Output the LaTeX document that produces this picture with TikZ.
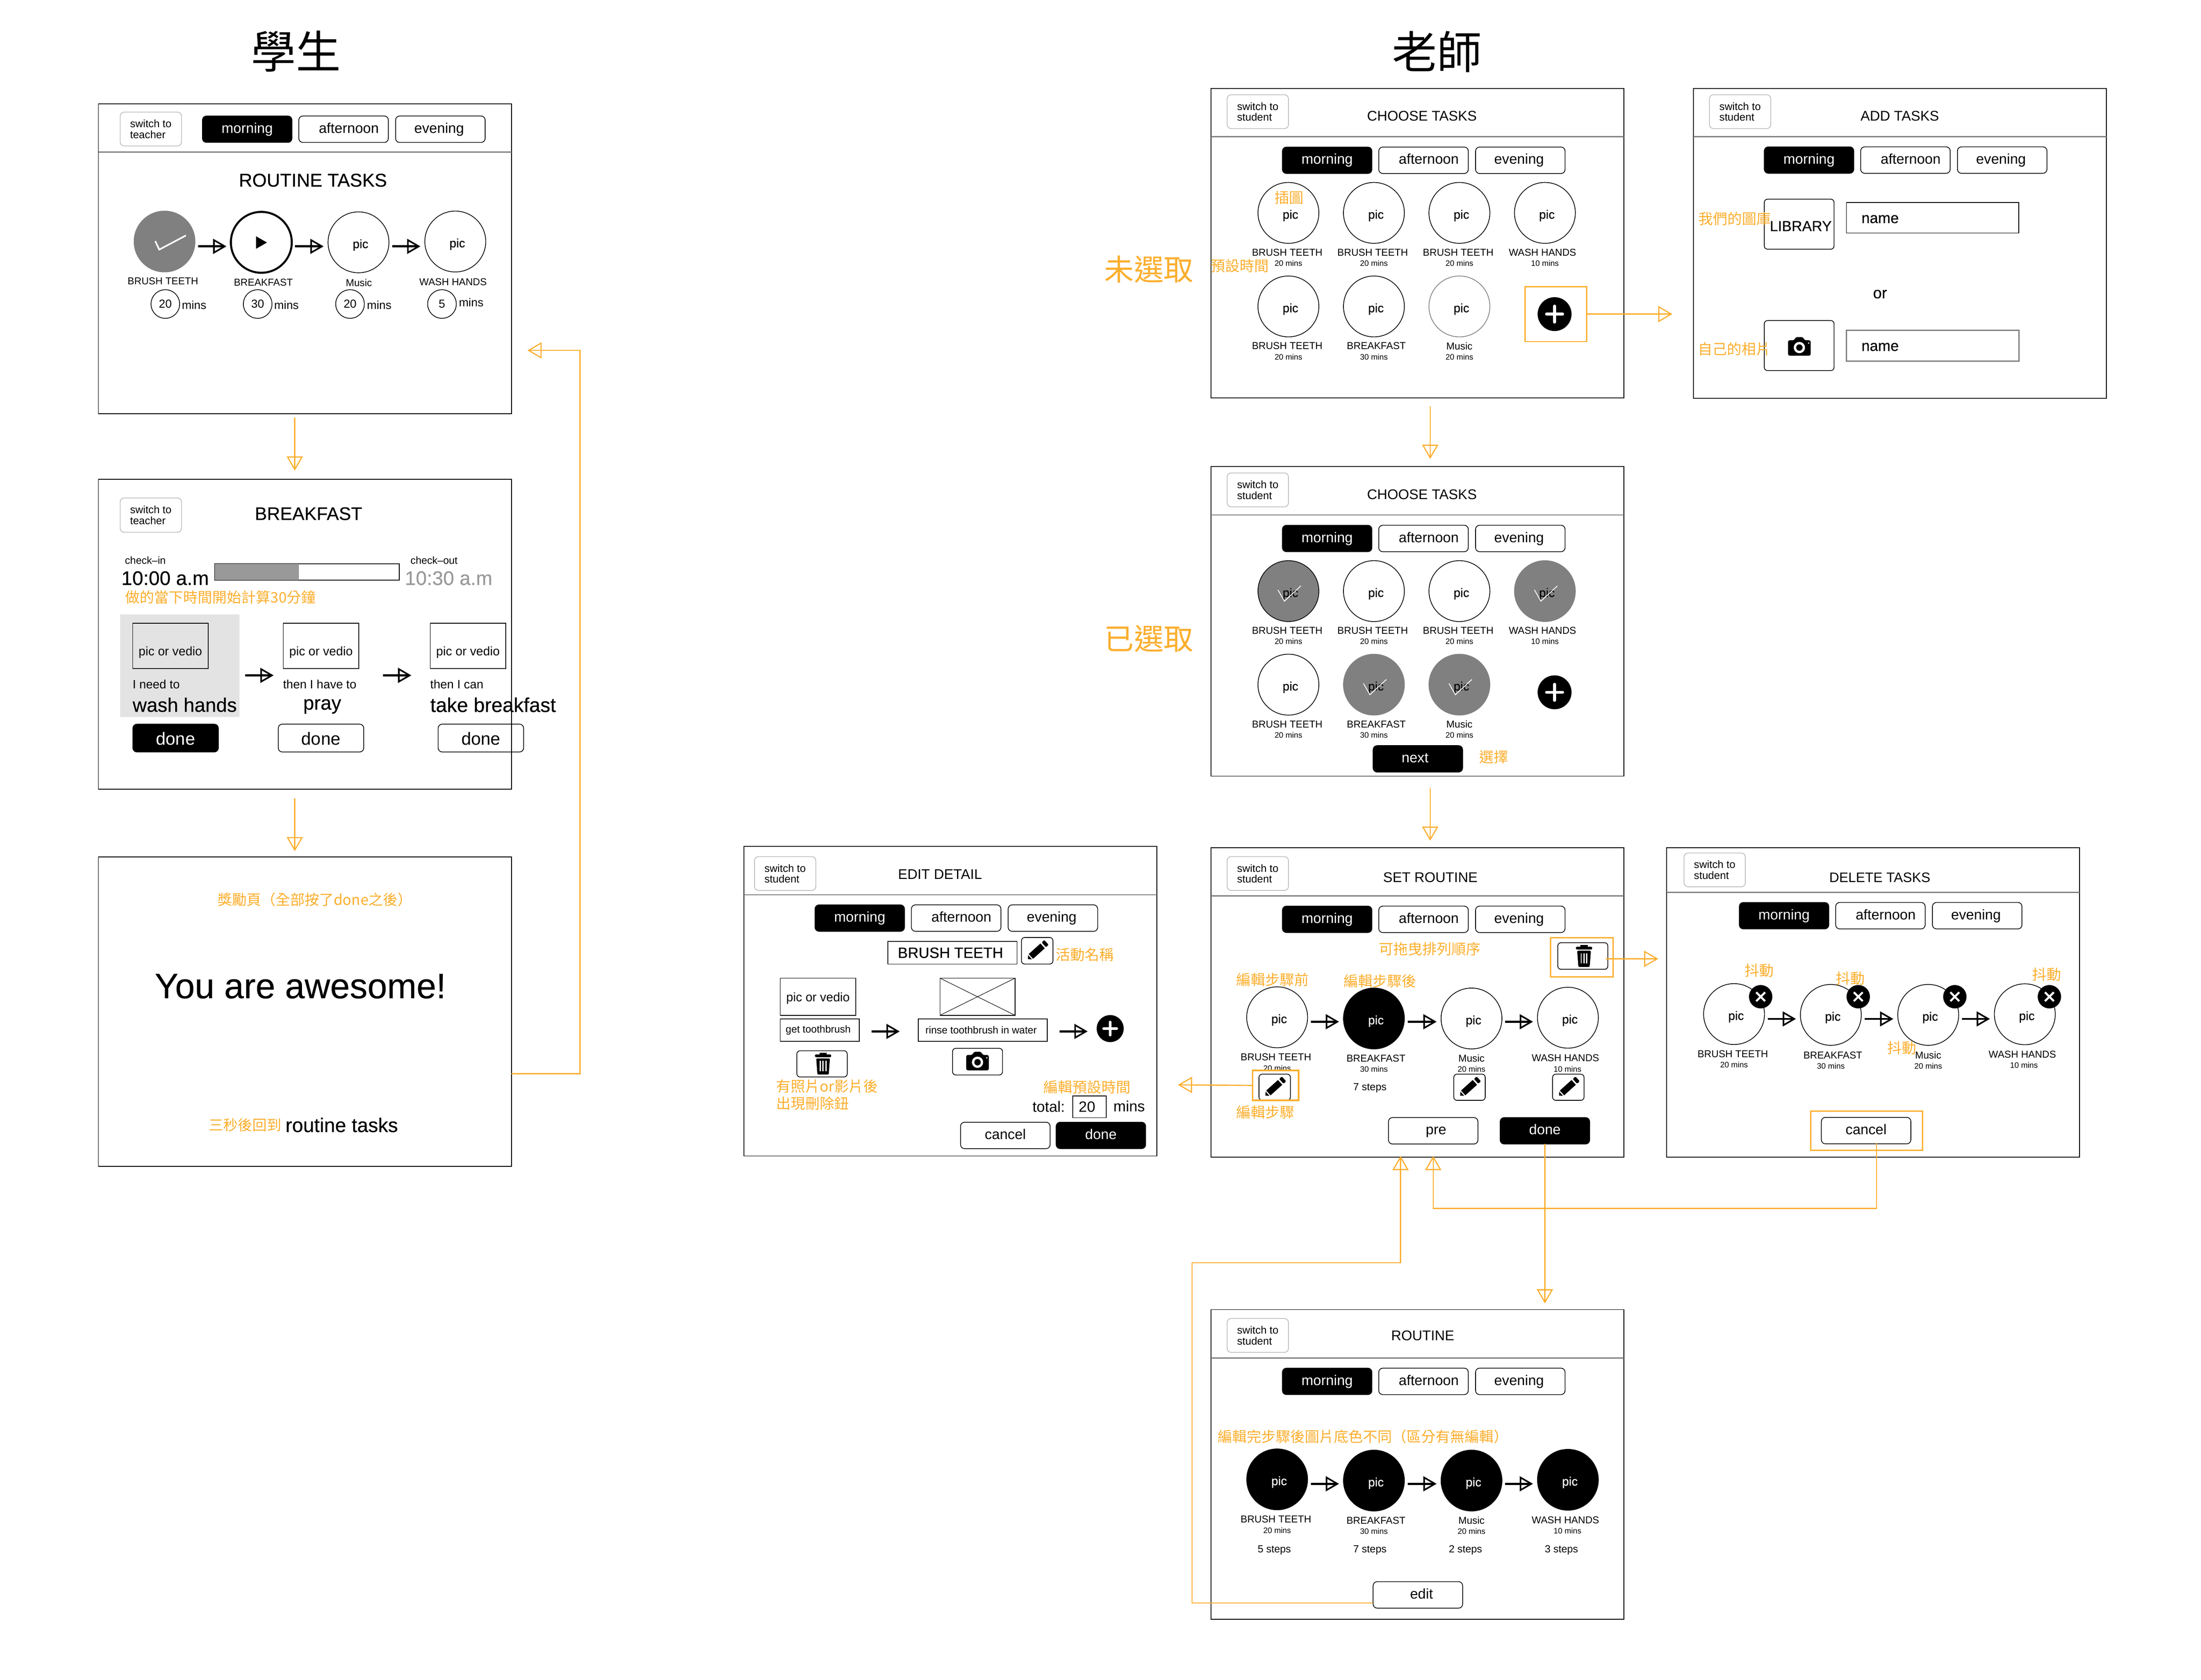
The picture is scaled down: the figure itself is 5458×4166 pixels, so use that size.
\documentclass[tikz,border=0pt]{standalone}
\usepackage{fontspec}
\setmainfont{Liberation Sans}
\newfontfamily\medfont[FakeBold=.3]{Liberation Sans}
\newfontfamily\cjk{Noto Sans CJK TC}
\usetikzlibrary{arrows.meta}

\definecolor{noteorange}{HTML}{FBAE2D}
\definecolor{selgray}{HTML}{808080}

\tikzset{
	ftext/.style={font=\fontsize{#1}{#1}\selectfont},
	mtext/.style={font=\medfont\fontsize{#1}{#1}\selectfont},
	note/.style={text=noteorange,font=\cjk\fontsize{9}{9}\selectfont},
	bignote/.style={text=noteorange,font=\cjk\fontsize{18.4}{18.4}\selectfont},
	screenbox/.style={draw,line width=.5pt,minimum width=256pt,minimum height=192pt,anchor=north west},
	headline/.style={draw=selgray,line width=.7pt},
	switchbtn/.style={draw=gray!60,line width=.4pt,rounded corners=2.5pt,minimum width=38pt,minimum height=21pt,align=left,font=\fontsize{6.6}{6.75}\selectfont},
	tabbtn/.style={draw,line width=.45pt,rounded corners=2.5pt,minimum width=55.5pt,minimum height=16.4pt,text height=6.6pt,text depth=1.9pt,ftext=8.8},
	tabon/.style={fill=black,text=white},
	donebtn/.style={draw,line width=.45pt,rounded corners=2.5pt,minimum width=53pt,minimum height=17.25pt,text height=8.9pt,text depth=.6pt,ftext=10.9},
	iconbtn/.style={draw,line width=.45pt,rounded corners=2pt,minimum width=#1,minimum height=16.25pt},
	plainbox/.style={draw,line width=.45pt},
	ring/.style={circle,draw,line width=.45pt,minimum size=37.75pt},
	picnode/.style={ring,mtext=7.6,text height=8.9pt,text depth=1.65pt,execute at begin node={\hspace*{2.5pt}}},
	picon/.style={picnode,fill=black,text=white},
	picsel/.style={picnode,fill=selgray},
	picdone/.style={picnode,fill=selgray,draw=selgray},
	picfaint/.style={picnode,draw=gray},
	tasklab/.style={ftext=6.2},
	tasksub/.style={ftext=4.9},
	plusbtn/.style={circle,fill=black,minimum size=21pt},
	notebox/.style={draw=noteorange,line width=.75pt},
	checkline/.style={draw=white,line width=.5pt},
	steparrow/.style={line width=1.25pt,-{Triangle[open,length=8.25pt,width=9.25pt,line width=1pt]},postaction={draw,-,shorten >=1.5pt}},
	flowarrow/.style={color=noteorange,line width=.65pt,-{Triangle[open,length=8.75pt,width=10pt,line width=.7pt]},postaction={draw,-,shorten >=1pt}},
	pics/plusicon/.style={code={\draw[white,line width=1.75pt,line cap=round] (-20,0) -- (20,0) (0,-20) -- (0,20);}},
	pics/crossicon/.style={code={\draw[white,line width=1.25pt] (-11,-11) -- (11,11) (-11,11) -- (11,-11);}},
	pics/penicon/.style={code={
		\fill[rotate=42] (-31,0) -- (-24,-7) -- (-24,7) -- cycle (-21,-8) -- (18,-8) -- (18,8) -- (-21,8) -- cycle;
		\fill[rotate=42,rounded corners=.5pt] (22,-8) -- (31,-8) -- (31,8) -- (22,8) -- cycle;}},
	pics/trashicon/.style={code={
		\fill (-9,-27) rectangle (9,-23);
		\fill[rounded corners=.5pt] (-20,-23) rectangle (20,-16);
		\fill[rounded corners=.5pt] (-17,-13) -- (17,-13) -- (14,27) -- (-14,27) -- cycle;
		\foreach \sx in {-7,0,7}{\fill[white] (\sx-1.5,-7) rectangle (\sx+1.5,19);}}},
	pics/camicon/.style={code={
		\fill[rounded corners=1pt] (-28,-15) -- (-13,-15) -- (-9,-23) -- (9,-23) -- (13,-15) -- (28,-15) -- (28,23) -- (-28,23) -- cycle;
		\fill[white] (0,3) circle [radius=14];
		\fill (0,3) circle [radius=8];
		\fill[white] (23,-8) circle [radius=2];}}
}

% frame of a screen, its switch button and the rule under the head
\newcommand{\screenHead}[5]{
	\node[screenbox] (#1) at (0,0) {};
	\node[switchbtn] (#1sw) at (#2,#3) {switch to\\#4};
	\draw[headline] (#1.west |- 0,#5) -- (#1.east |- 0,#5);
}
\newcommand{\tabRow}[3]{
	\node[tabbtn,tabon] (#1morning) at (#2,#3) {morning};
	\node[tabbtn] (#1afternoon) at (#2+239,#3) {\hspace*{6.5pt}afternoon};
	\node[tabbtn] (#1evening) at (#2+479,#3) {\hspace*{-1.5pt}evening};
}
\newcommand{\stepArrows}[2]{
	\foreach \startNode/\endNode in {c1/c2,c2/c3,c3/c4}
	{
		\draw[steparrow] ([xshift=2pt]#1\startNode.east |- 0,#2) -- ([xshift=-2.75pt]#1\endNode.west |- 0,#2);
	}
}
\newcommand{\chooseGrid}[8]{
	\foreach \i/\cx/\cy/\lx/\lab/\sub/\sty in {1/192/309/189/BRUSH TEETH/20 mins/#2,2/404/309/401/BRUSH TEETH/20 mins/#3,
		3/616/309/613/BRUSH TEETH/20 mins/#4,4/828/309/822/WASH HANDS/10 mins/#5,5/192/541/189/BRUSH TEETH/20 mins/#6,
		6/404/541/410/BREAKFAST/30 mins/#7,7/616/541/616/Music/20 mins/#8}
	{
		\node[\sty] (#1c\i) at (\cx,\cy) {pic};
		\node[tasklab] (#1l\i) at (\lx,\cy+98) {\lab};
		\node[tasksub] (#1m\i) at (\cx,\cy+125) {\sub};
	}
}
\newcommand{\routineRow}[5]{
	\foreach \i/\cx/\cy/\lx/\ly/\sx/\lab/\sub/\sty in {1/164/421/161/520/164/BRUSH TEETH/20 mins/#2,2/404/424/409/523/404/BREAKFAST/30 mins/#3,
		3/646/424/646/523/646/Music/20 mins/#4,4/885/422/879/522/884/WASH HANDS/10 mins/#5}
	{
		\node[\sty] (#1c\i) at (\cx,\cy) {pic};
		\node[tasklab] (#1l\i) at (\lx,\ly) {\lab};
		\node[tasksub] (#1m\i) at (\sx,\ly+27) {\sub};
	}
	\stepArrows{#1}{432}
}

\begin{document}
\begin{tikzpicture}
	[x=.25pt,y=-.25pt,every node/.style={inner sep=0pt,outer sep=0pt}]
	\useasboundingbox (0,0) rectangle (5458,4166);

	\node[font=\cjk\fontsize{27.8}{27.8}\selectfont] (studenthead) at (734,127) {學生};
	\node[font=\cjk\fontsize{27.8}{27.8}\selectfont] (teacherhead) at (3563,129) {老師};
	\node[bignote] (unselnote) at (2849,668) {未選取};
	\node[bignote] (selnote) at (2849,1584) {已選取};

	% student: routine tasks
	\begin{scope}[shift={(244,258)}]
		\screenHead{s1}{130}{62}{teacher}{119}
		\tabRow{s1}{369}{62.5}
		\node[mtext=11.5] (s1title) at (532,189) {ROUTINE TASKS};
		\node[ring,fill=selgray,draw=selgray] (s1c1) at (164,341) {};
		\node[ring,line width=1.25pt] (s1c2) at (404,343) {};
		\node[picnode] (s1c3) at (645,343) {pic};
		\node[picnode] (s1c4) at (885,341) {pic};
		\draw[checkline,line width=1pt] (s1c1.center) +(-23,-1) -- +(-13,20) -- +(53,-15);
		\fill (391,328) -- (418,343.5) -- (391,359) -- cycle;
		\stepArrows{s1}{353}
		\foreach \i/\lx/\ly/\lab/\nx/\num/\mx/\my in {1/160/439/BRUSH TEETH/166/20/207/498,2/409/442/BREAKFAST/395/30/436/498,
			3/646/443/Music/624/20/666/498,4/879.5/441/WASH HANDS/852/5/894/492}
		{
			\node[tasklab] (s1l\i) at (\lx,\ly) {\lab};
			\node[circle,draw,line width=.45pt,minimum size=17.75pt,ftext=7.2] (s1n\i) at (\nx,496) {\num};
			\node[ftext=7.2,anchor=west] (s1m\i) at (\mx,\my) {mins};
		}
	\end{scope}

	% student: one task
	\begin{scope}[shift={(244,1189)}]
		\node[screenbox] (s2) at (0,0) {};
		\node[switchbtn,minimum height=21.25pt] (s2sw) at (130,88.5) {switch to\\teacher};
		\node[mtext=11.3] (s2title) at (521,85) {BREAKFAST};
		\node[ftext=6.4,anchor=west] (s2in) at (66,201) {check–in};
		\node[mtext=12.2,anchor=west] (s2intime) at (57,245) {10:00 a.m};
		\node[plainbox,minimum width=114.25pt,minimum height=10.25pt] (s2bar) at (517.5,229.5) {};
		\node[fill=black!40,minimum width=52pt,minimum height=10.25pt,anchor=west] (s2barfill) at (s2bar.west) {};
		\node[ftext=6.4,anchor=west] (s2out) at (774,201) {check–out};
		\node[mtext=12.2,anchor=west,text=black!40] (s2outtime) at (760,245) {10:30 a.m};
		\node[note,anchor=west] (s2note) at (67,292) {做的當下時間開始計算30分鐘};
		\node[fill=black!11,minimum width=74pt,minimum height=63.5pt] (s2panel) at (202,462) {};
		\foreach \i/\bx/\tx/\ttxt/\dx/\sty in {1/178.5/85/I need to/191.5/tabon,2/552/458/then I have to/552/donebtn,3/916.5/823/then I can/948.5/donebtn}
		{
			\node[plainbox,minimum width=46.75pt,minimum height=28pt,ftext=7.7,text height=13.5pt,text depth=1.6pt] (s2p\i) at (\bx,413) {pic or vedio};
			\node[ftext=7.5,anchor=west] (s2t\i) at (\tx,508) {\ttxt};
			\node[donebtn,\sty] (s2d\i) at (\dx,641.5) {done};
		}
		\node[mtext=12.1,anchor=west] (s2w1) at (85,559) {wash hands};
		\node[mtext=12.1] (s2w2) at (555,563) {pray};
		\node[mtext=12.4,anchor=west] (s2w3) at (823,559) {take breakfast};
		\draw[steparrow] ([xshift=23pt]s2p1.east |- 0,486) -- ([xshift=-6pt]s2p2.west |- 0,486);
		\draw[steparrow] ([xshift=15pt]s2p2.east |- 0,486) -- ([xshift=-11.75pt]s2p3.west |- 0,486);
	\end{scope}

	% student: reward page
	\begin{scope}[shift={(244,2125)}]
		\node[screenbox] (s3) at (0,0) {};
		\node[note] (s3note) at (537,106) {獎勵頁（全部按了done之後）};
		\node[mtext=21.9] (s3title) at (501,321) {You are awesome!};
		\node[note,anchor=west] (s3back) at (274,665) {三秒後回到};
		\node[mtext=12.3,anchor=west] (s3tasks) at (464,665) {routine tasks};
	\end{scope}

	% teacher: choose tasks, nothing selected
	\begin{scope}[shift={(3003,219)}]
		\screenHead{t1}{116}{58}{student}{120}
		\tabRow{t1}{288}{178.5}
		\node[ftext=8.7] (t1title) at (523,69) {CHOOSE TASKS};
		\chooseGrid{t1}{picnode}{picnode}{picnode}{picnode}{picnode}{picnode}{picfaint}
		\node[note] (t1picnote) at (194,271) {插圖};
		\node[note] (t1timenote) at (71,440) {預設時間};
		\node[plusbtn] (t1plus) at (852,560) {};
		\pic at (t1plus.center) {plusicon};
		\node[notebox,minimum width=38.25pt,minimum height=34pt] (t1box) at (855.5,560) {};
	\end{scope}

	% teacher: choose tasks, some selected
	\begin{scope}[shift={(3003,1157)}]
		\screenHead{t2}{116}{58}{student}{120}
		\tabRow{t2}{288}{178.5}
		\node[ftext=8.7] (t2title) at (523,69) {CHOOSE TASKS};
		\chooseGrid{t2}{picsel}{picnode}{picnode}{picdone}{picnode}{picdone}{picdone}
		\foreach \i in {1,4,6,7}
		{
			\draw[checkline] (t2c\i.center) +(-26,-3) -- +(-10,25) -- +(31,-13);
		}
		\node[plusbtn] (t2plus) at (852,560) {};
		\pic at (t2plus.center) {plusicon};
		\node[tabbtn,tabon] (t2next) at (513,725) {\hspace*{-3.5pt}next};
		\node[note] (t2note) at (701,721) {選擇};
	\end{scope}

	% teacher: add tasks
	\begin{scope}[shift={(4199.5,219.5)}]
		\screenHead{a1}{115.5}{57.5}{student}{119.5}
		\tabRow{a1}{286.5}{177.5}
		\node[ftext=8.7] (a1title) at (511.5,68.5) {ADD TASKS};
		\node[iconbtn=43.25pt,minimum height=31pt,mtext=9,text height=8.6pt,text depth=0pt] (a1lib) at (262,336.5) {\hspace*{2pt}LIBRARY};
		\node[plainbox,minimum width=106.9pt,minimum height=18.9pt] (a1name1) at (593,320.5) {};
		\node[mtext=9.25,anchor=west] (a1text1) at (416.5,324) {name};
		\node[mtext=9.75] (a1or) at (462.5,510) {or};
		\node[iconbtn=43.25pt,minimum height=31pt] (a1cam) at (262,637.5) {};
		\pic at (262.5,639.5) {camicon};
		\node[plainbox,draw=selgray,line width=.7pt,minimum width=106.9pt,minimum height=19pt] (a1name2) at (593,638) {};
		\node[mtext=9.25,anchor=west] (a1text2) at (416.5,641) {name};
		\node[note] (a1libnote) at (102.5,323.5) {我們的圖庫};
		\node[note] (a1camnote) at (101.5,646.5) {自己的相片};
	\end{scope}

	% teacher: edit detail
	\begin{scope}[shift={(1845,2099)}]
		\screenHead{e1}{102}{67.5}{student}{120}
		\tabRow{e1}{287}{178}
		\node[ftext=8.7] (e1title) at (486,69) {EDIT DETAIL};
		\node[plainbox,minimum width=80pt,minimum height=14pt,mtext=9.25] (e1name) at (517,264) {\hspace*{-2.5pt}BRUSH TEETH};
		\node[iconbtn=19.5pt,minimum height=16.5pt] (e1pen) at (727,259) {};
		\pic at (727,259) {penicon};
		\node[note] (e1namenote) at (845,269) {活動名稱};
		\node[plainbox,minimum width=46.75pt,minimum height=23pt,ftext=7.7,text height=7.5pt,text depth=1.6pt] (e1pic) at (183.5,373) {pic or vedio};
		\node[plainbox,minimum width=49pt,minimum height=14pt,ftext=6.3] (e1get) at (188,456) {\hspace*{-2pt}get toothbrush};
		\node[plainbox,minimum width=46.5pt,minimum height=23pt] (e1cross) at (579,373) {};
		\draw[line width=.3pt] (e1cross.north west) -- (e1cross.south east) (e1cross.north east) -- (e1cross.south west);
		\node[plainbox,minimum width=80pt,minimum height=14pt,ftext=6.3] (e1rinse) at (592,456) {\hspace*{-2pt}rinse toothbrush in water};
		\node[plusbtn,minimum size=16.75pt] (e1plus) at (908,452) {};
		\pic[scale=.8] at (e1plus.center) {plusicon};
		\draw[steparrow] ([xshift=7.5pt]e1get.east |- 0,459) -- ([xshift=-11.5pt]e1rinse.west |- 0,459);
		\draw[steparrow] ([xshift=7.5pt]e1rinse.east |- 0,459) -- ([xshift=-5.6pt]e1plus.west |- 0,459);
		\node[iconbtn=31.25pt] (e1trash) at (193.5,539.5) {};
		\pic at (196,539) {trashicon};
		\node[iconbtn=31pt,minimum height=16.5pt] (e1cam) at (579,534) {};
		\pic at (579,532.5) {camicon};
		\node[note,anchor=west] (e1delnote1) at (80,595) {有照片or影片後};
		\node[note,anchor=west] (e1delnote2) at (80,638) {出現刪除鈕};
		\node[note] (e1timenote) at (851,597) {編輯預設時間};
		\node[ftext=9.25] (e1total) at (755.5,646) {total:};
		\node[plainbox,minimum width=20.75pt,minimum height=13.5pt,ftext=9.25] (e1num) at (856.5,646) {\hspace*{-3pt}20};
		\node[ftext=9.25,anchor=west] (e1mins) at (916,645) {mins};
		\node[tabbtn] (e1cancel) at (648,717) {cancel};
		\node[tabbtn,tabon] (e1done) at (885,717) {done};
	\end{scope}

	% teacher: set routine
	\begin{scope}[shift={(3003,2102)}]
		\screenHead{t3}{116}{64.5}{student}{120}
		\tabRow{t3}{288}{178}
		\node[ftext=8.7] (t3title) at (544,74) {SET ROUTINE};
		\node[note] (t3dragnote) at (542,251) {可拖曳排列順序};
		\node[iconbtn=31pt,minimum height=16.5pt] (t3trash) at (922,269) {};
		\pic at (925,269) {trashicon};
		\node[notebox,minimum width=38.75pt,minimum height=24.25pt] (t3trashbox) at (919.5,272.5) {};
		\node[note] (t3before) at (153,328) {編輯步驟前};
		\node[note] (t3after) at (419,331) {編輯步驟後};
		\routineRow{t3}{picnode}{picon}{picnode}{picnode}
		\node[ftext=6.4] (t3steps) at (394,596) {7 steps};
		\foreach \i/\bx/\by in {1/158/594.5,3/641/594.5,4/886/594.5}
		{
			\node[iconbtn=19.5pt] (t3pen\i) at (\bx,\by) {};
			\pic at (\bx,\by) {penicon};
		}
		\node[notebox,line width=1pt,minimum width=28.5pt,minimum height=18.5pt] (t3penbox) at (160,590) {};
		\node[note] (t3pennote) at (135,656) {編輯步驟};
		\node[tabbtn] (t3pre) at (551,702.5) {\hspace*{3.5pt}pre};
		\node[tabbtn,tabon] (t3done) at (828,702.5) {done};
	\end{scope}

	% teacher: delete tasks
	\begin{scope}[shift={(4133,2102)}]
		\screenHead{d1}{119}{55.5}{student}{111}
		\tabRow{d1}{291}{169}
		\node[ftext=8.5] (d1title) at (528.5,74) {DELETE TASKS};
		\foreach \i/\cx/\cy/\lx/\ly/\sx/\bx/\lab/\sub in {1/167/413/164/511.6/167/233/BRUSH TEETH/20 mins,2/407/415/412/515/407/475/BREAKFAST/30 mins,
			3/648.5/415/648.5/515/648.5/714.5/Music/20 mins,4/888/413.5/882/513/886/949/WASH HANDS/10 mins}
		{
			\node[picnode] (d1c\i) at (\cx,\cy) {pic};
			\node[circle,fill=black,minimum size=14.5pt] (d1x\i) at (\bx,370) {};
			\pic at (d1x\i.center) {crossicon};
			\node[tasklab] (d1l\i) at (\lx,\ly) {\lab};
			\node[tasksub] (d1m\i) at (\sx,\ly+26.5) {\sub};
		}
		\stepArrows{d1}{425}
		\foreach \i/\nx/\ny in {1/230/305,2/455/325,3/583/497,4/942/315}
		{
			\node[note] (d1shake\i) at (\nx,\ny) {抖動};
		}
		\node[tabbtn] (d1cancel) at (494.5,702) {cancel};
		\node[notebox,minimum width=69.4pt,minimum height=24.35pt] (d1box) at (495.7,702.3) {};
	\end{scope}

	% teacher: routine
	\begin{scope}[shift={(3003,3248)}]
		\screenHead{t5}{116}{64}{student}{120}
		\tabRow{t5}{288}{178}
		\node[ftext=8.7] (t5title) at (525,64) {ROUTINE};
		\node[note,anchor=west] (t5note) at (17,315) {編輯完步驟後圖片底色不同（區分有無編輯）};
		\routineRow{t5}{picon}{picon}{picon}{picon}
		\foreach \i/\sx/\stxt in {1/157/5 steps,2/394/7 steps,3/631/2 steps,4/869/3 steps}
		{
			\node[ftext=6.4] (t5s\i) at (\sx,596) {\stxt};
		}
		\node[tabbtn] (t5edit) at (513,707.5) {\hspace*{4.5pt}edit};
	\end{scope}

	% flow between the screens
	\coordinate (loopTurn) at (1438,869);
	\coordinate (backBend) at (3554,2997);
	\coordinate (editTurn) at (2956,3132);
	\coordinate (editUp) at (3473,3132);
	\draw[flowarrow] ([shift={(-25,10)}]s1.south) -- ([shift={(-25,-22)}]s2.north);
	\draw[flowarrow] ([shift={(-25,23)}]s2.south) -- ([shift={(-25,-14)}]s3.north);
	\draw[flowarrow] ([shift={(0,154)}]s3.east) -| (loopTurn) -- ([shift={(40,227)}]s1.east);
	\draw[flowarrow] ([shift={(31.5,21)}]t1.south) -- ([shift={(31.5,-19)}]t2.north);
	\draw[flowarrow] ([shift={(31.5,29)}]t2.south) -- ([shift={(31.5,-17)}]t3.north);
	\draw[flowarrow] (t1box.east) -- ([shift={(-52.5,175.5)}]a1.west);
	\draw[flowarrow] ([xshift=-1.25pt,yshift=-1.75pt]t3trash.east) -- ([shift={(-21,-108)}]d1.west);
	\draw[flowarrow] (t3penbox.west) -- ([shift={(52,207.5)}]e1.east);
	\draw[flowarrow] (t3done.south) -- ([shift={(316,-15.5)}]t5.north);
	\draw[flowarrow] ([xshift=6.5pt,yshift=.5pt]d1cancel.south) |- (backBend) -- ([shift={(39,-3)}]t3.south);
	\draw[flowarrow] ([yshift=-5pt]t5edit.west) -| (editTurn) -- (editUp) -- ([shift={(-42,-3)}]t3.south);
\end{tikzpicture}
\end{document}
